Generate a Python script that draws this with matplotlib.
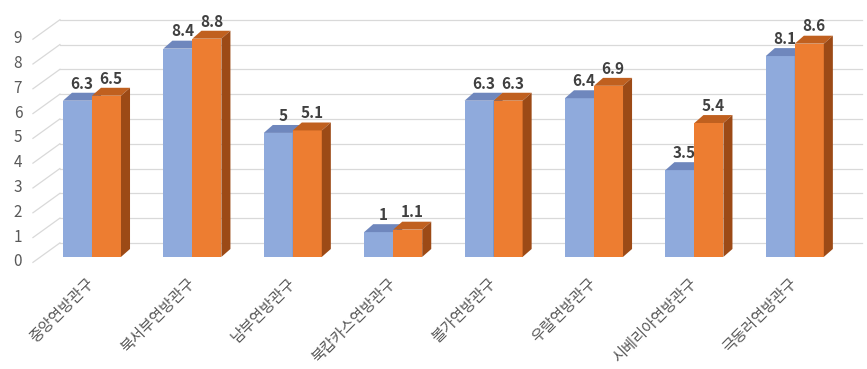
import matplotlib
matplotlib.use('AGG')
import matplotlib.pyplot as plt

plt.rcParams['font.family'] = ['Noto Sans CJK KR', 'DejaVu Sans']

# data
categories = ['중앙연방관구', '북서부연방관구', '남부연방관구', '북캅카스연방관구',
              '볼가연방관구', '우랄연방관구', '시베리아연방관구', '극동러연방관구']
series_a = [6.3, 8.4, 5, 1, 6.3, 6.4, 3.5, 8.1]
series_b = [6.5, 8.8, 5.1, 1.1, 6.3, 6.9, 5.4, 8.6]
y_ticks = list(range(0, 10))

# colours: front, top, side
blue = ('#8faadc', '#6f87bd', '#5f77aa')
orange = ('#ed7d31', '#c0601f', '#9c4a16')
grid_col = '#d9d9d9'
text_col = '#595959'

fig = plt.figure(figsize=(8.67, 3.69), dpi=100)
ax = fig.add_axes([0, 0, 1, 1])
ax.axis('off')
ax.set_xlim(-0.916, 7.719)
ax.set_ylim(-4.52, 10.36)

# 3d look parameters (in data units)
wall_dx, wall_dy = 0.269, 0.565      # back wall offset
front_x, front_dy = -0.588, -0.22    # left front edge
right_x = 7.67
bar_w = 0.289
bar_dx, bar_dy = 0.09, 0.32

# gridlines on the back wall + left floor diagonals
for t in y_ticks:
    ax.plot([front_x, front_x + wall_dx], [t + front_dy, t + wall_dy],
            color=grid_col, lw=0.9, zorder=1)
    ax.plot([front_x + wall_dx, right_x], [t + wall_dy, t + wall_dy],
            color=grid_col, lw=0.9, zorder=1)
    ax.text(-0.737, t - 0.2, str(t), ha='center', va='center',
            fontsize=11, color=text_col)


def bar3d(x0, h, cols):
    x1 = x0 + bar_w
    ax.fill([x0, x1, x1, x0], [0, 0, h, h], color=cols[0], lw=0, zorder=3)
    ax.fill([x0, x1, x1 + bar_dx, x0 + bar_dx], [h, h, h + bar_dy, h + bar_dy],
            color=cols[1], lw=0, zorder=3)
    ax.fill([x1, x1 + bar_dx, x1 + bar_dx, x1], [0, bar_dy, h + bar_dy, h],
            color=cols[2], lw=0, zorder=3)
    ax.text(x0 + bar_w / 2 + bar_dx / 2, h + bar_dy + 0.05, f'{h:g}',
            ha='center', va='bottom', fontsize=11, fontweight='bold',
            color='#404040', zorder=4)


for i, (a, b) in enumerate(zip(series_a, series_b)):
    bar3d(i - bar_w, a, blue)
    bar3d(i, b, orange)
    ax.text(i - 0.06, -0.72, categories[i], rotation=45, rotation_mode='anchor',
            ha='right', va='top', fontsize=11, color=text_col)

plt.savefig('out.png', dpi=100)
